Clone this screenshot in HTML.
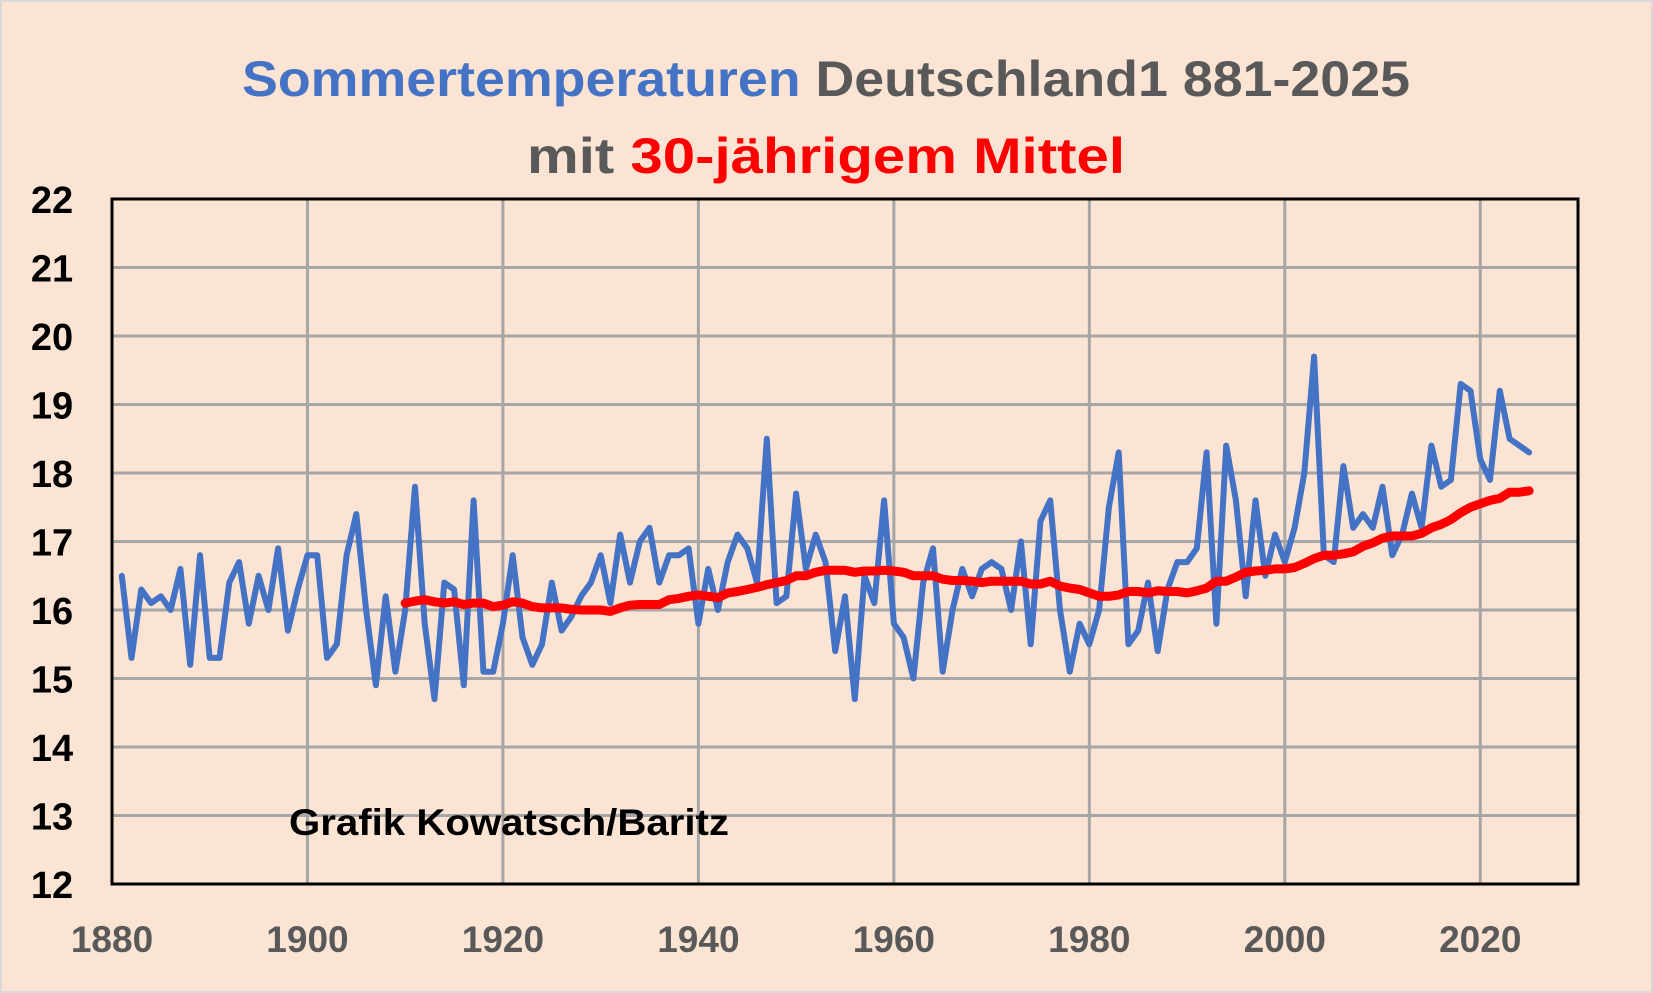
<!DOCTYPE html>
<html><head><meta charset="utf-8"><style>
html,body{margin:0;padding:0;background:#fce4d4;}
svg{display:block;font-family:"Liberation Sans",sans-serif;}
</style></head><body>
<svg id="chart" width="1653" height="993" viewBox="0 0 1653 993">
<rect x="1" y="1" width="1651" height="991" fill="#fce4d4" stroke="#d9d9d9" stroke-width="2"/>
<text x="826" y="96" text-anchor="middle" font-size="50" font-weight="bold" textLength="1168" lengthAdjust="spacingAndGlyphs"><tspan fill="#4472c4">Sommertemperaturen</tspan><tspan fill="#595959"> Deutschland1 881-2025</tspan></text>
<text x="826" y="173" text-anchor="middle" font-size="50" font-weight="bold" textLength="598" lengthAdjust="spacingAndGlyphs"><tspan fill="#595959">mit </tspan><tspan fill="#ff0000">30-jährigem Mittel</tspan></text>
<g id="grid"></g>
<g id="axes"></g>
<g id="series"></g>
<rect x="112" y="199" width="1466" height="685" fill="none" stroke="#000" stroke-width="3"/>
<text x="289" y="835" font-size="37" font-weight="bold" fill="#000" textLength="440" lengthAdjust="spacingAndGlyphs">Grafik Kowatsch/Baritz</text>
</svg>
<script>
const blueStart = 1881;
const blueValues = [16.5,15.3,16.3,16.1,16.2,16.0,16.6,15.2,16.8,15.3,15.3,16.4,16.7,15.8,16.5,16.0,16.9,15.7,16.3,16.8,
16.8,15.3,15.5,16.8,17.4,16.0,14.9,16.2,15.1,16.0,17.8,15.8,14.7,16.4,16.3,14.9,17.6,15.1,15.1,15.8,
16.8,15.6,15.2,15.5,16.4,15.7,15.9,16.2,16.4,16.8,16.1,17.1,16.4,17.0,17.2,16.4,16.8,16.8,16.9,15.8,
16.6,16.0,16.7,17.1,16.9,16.4,18.5,16.1,16.2,17.7,16.6,17.1,16.7,15.4,16.2,14.7,16.5,16.1,17.6,15.8,
15.6,15.0,16.4,16.9,15.1,16.0,16.6,16.2,16.6,16.7,16.6,16.0,17.0,15.5,17.3,17.6,16.0,15.1,15.8,15.5,
16.0,17.5,18.3,15.5,15.7,16.4,15.4,16.3,16.7,16.7,16.9,18.3,15.8,18.4,17.6,16.2,17.6,16.5,17.1,16.7,
17.2,18.0,19.7,16.8,16.7,18.1,17.2,17.4,17.2,17.8,16.8,17.1,17.7,17.2,18.4,17.8,17.9,19.3,19.2,18.2,
17.9,19.2,18.5,18.4,18.3];
const redStart = 1910;
const redValues = [16.1,16.13,16.15,16.12,16.1,16.12,16.08,16.1,16.1,16.05,16.07,16.12,16.1,16.05,16.03,16.03,16.03,16.01,16.0,16.0,
16.0,15.98,16.03,16.07,16.08,16.08,16.08,16.15,16.17,16.2,16.22,16.2,16.18,16.25,16.27,16.3,16.33,16.37,16.4,16.43,
16.5,16.5,16.55,16.58,16.58,16.58,16.55,16.57,16.57,16.58,16.57,16.55,16.5,16.5,16.5,16.45,16.43,16.43,16.42,16.4,
16.42,16.42,16.42,16.42,16.38,16.38,16.42,16.35,16.32,16.3,16.25,16.2,16.2,16.22,16.27,16.27,16.25,16.28,16.27,16.27,
16.25,16.28,16.32,16.42,16.42,16.48,16.55,16.57,16.58,16.6,16.6,16.62,16.68,16.75,16.8,16.8,16.82,16.85,16.93,16.98,
17.05,17.08,17.08,17.08,17.12,17.2,17.25,17.32,17.42,17.5,17.55,17.6,17.63,17.72,17.72,17.74];
const yTicks = [12,13,14,15,16,17,18,19,20,21,22];
const xTicks = [1880,1900,1920,1940,1960,1980,2000,2020];

const X0=112, X1=1578, Y0=884, Y1=199;
const xMin=1880, xMax=2030, yMin=12, yMax=22;
const xs = v => X0 + (v-xMin)/(xMax-xMin)*(X1-X0);
const ys = v => Y0 - (v-yMin)/(yMax-yMin)*(Y0-Y1);
const NS="http://www.w3.org/2000/svg";
const grid=document.getElementById('grid'), axes=document.getElementById('axes'), series=document.getElementById('series');
function mk(tag, attrs, parent){const e=document.createElementNS(NS,tag);for(const k in attrs)e.setAttribute(k,attrs[k]);parent.appendChild(e);return e;}

yTicks.forEach(t=>{
  const l=mk('line',{x1:X0,x2:X1,y1:ys(t),y2:ys(t),stroke:'#a6a6a6','stroke-width':3},grid);
  
  
  const tx=mk('text',{x:52,y:ys(t)+14,'text-anchor':'middle','font-size':38,'font-weight':'bold',fill:'#000'},axes);
  tx.textContent=t;
  
  
});
xTicks.forEach(t=>{
  const l=mk('line',{x1:xs(t),x2:xs(t),y1:Y1,y2:Y0,stroke:'#a6a6a6','stroke-width':3},grid);
  
  
  const tx=mk('text',{x:xs(t),y:952,'text-anchor':'middle','font-size':37,'font-weight':'bold',fill:'#595959'},axes);
  tx.textContent=t;
  
  
});
const bp=blueValues.map((v,i)=>xs(blueStart+i).toFixed(1)+','+ys(v).toFixed(1)).join(' ');
const blue=mk('polyline',{points:bp,fill:'none',stroke:'#4472c4','stroke-width':6,'stroke-linejoin':'round','stroke-linecap':'round'},series);


const rp=redValues.map((v,i)=>xs(redStart+i).toFixed(1)+','+ys(v).toFixed(1)).join(' ');
const red=mk('polyline',{points:rp,fill:'none',stroke:'#ff0000','stroke-width':9,'stroke-linejoin':'round','stroke-linecap':'round'},series);


</script>
</body></html>
